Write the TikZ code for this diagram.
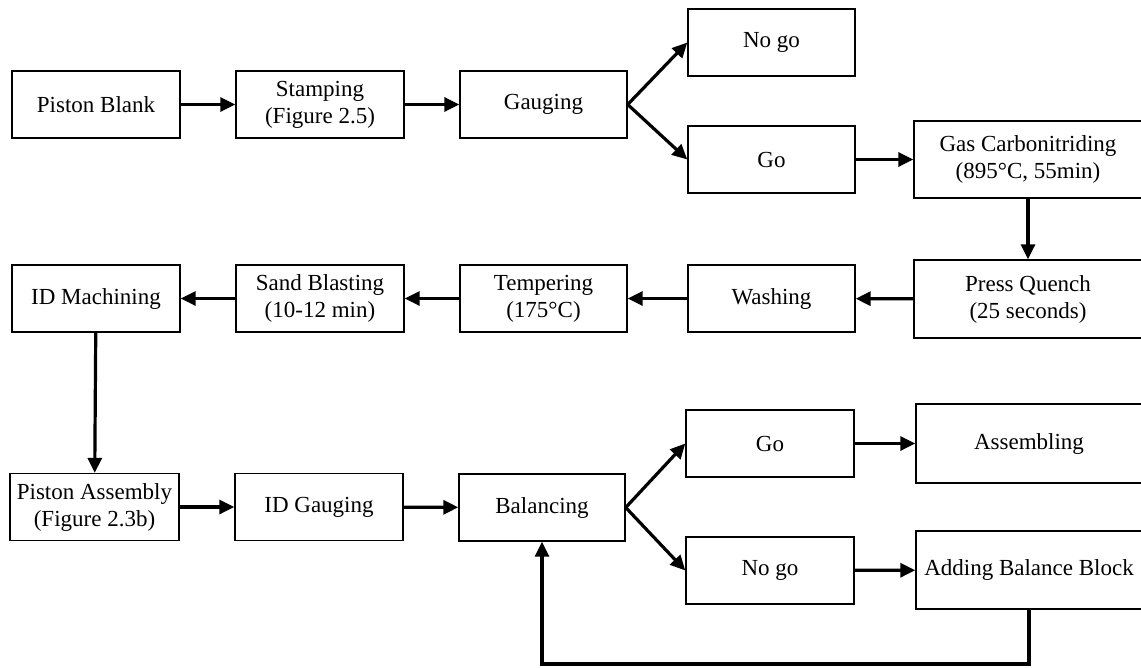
\documentclass[tikz,border=0pt]{standalone}
\usepackage{fontspec}
\setmainfont{Liberation Serif}
\usetikzlibrary{arrows.meta}
\begin{document}
\begin{tikzpicture}[x=1pt,y=-1pt,
  box/.style={draw=black, line width=1.4pt, fill=white, inner sep=2pt, align=center,
    font=\fontsize{23}{27}\selectfont, minimum width=168pt, minimum height=67pt},
  wide/.style={box, minimum width=228pt, minimum height=78pt},
  arr/.style={line width=3.2pt, -{Triangle[length=15pt,width=14pt]}}]
\clip (0,0) rectangle (1141,667);
\fill[white] (0,0) rectangle (1141,667);
% row 1
\node[box] (pb) at (96,104.5) {Piston Blank};
\node[box] (st) at (320,104.5) {Stamping\\(Figure 2.5)};
\node[box, minimum width=167pt] (ga) at (543.5,104.5) {Gauging};
\node[box, minimum width=167pt] (ng1) at (771.5,42.5) {No go};
\node[box, minimum width=167pt] (go1) at (771.5,159.5) {Go};
\node[wide, minimum height=77pt] (gc) at (1028,159.5) {Gas Carbonitriding\\(895°C, 55min)};
% row 2
\node[wide] (pq) at (1028,299) {Press Quench\\(25 seconds)};
\node[box, minimum width=167pt] (wa) at (771.5,298.5) {Washing};
\node[box, minimum width=167pt] (te) at (543.5,298.5) {Tempering\\(175°C)};
\node[box] (sb) at (320,298.5) {Sand Blasting\\(10-12 min)};
\node[box] (idm) at (96,298.5) {ID Machining};
% rows 3/4
\node[box, minimum width=169pt] (pa) at (94.5,507) {Piston Assembly\\(Figure 2.3b)};
\node[box] (idg) at (319,507) {ID Gauging};
\node[box, minimum width=166pt] (ba) at (542,507.5) {Balancing};
\node[box] (go2) at (770,443.5) {Go};
\node[box] (ng2) at (770,570.5) {No go};
\node[wide, minimum width=226pt, minimum height=79pt] (as) at (1029,443.5) {Assembling};
\node[wide, minimum width=226pt] (ab) at (1029,570) {Adding Balance Block};
\coordinate (fb) at (1029,664);
% connectors
\draw[arr] (pb) -- (st);
\draw[arr] (st) -- (ga);
\draw[arr] (ga.east) -- (ng1.west);
\draw[arr] (ga.east) -- (go1.west);
\draw[arr] (go1) -- (gc);
\draw[arr] (gc) -- (pq);
\draw[arr] (pq) -- (wa);
\draw[arr] (wa) -- (te);
\draw[arr] (te) -- (sb);
\draw[arr] (sb) -- (idm);
\draw[arr] (idm) -- (pa);
\draw[arr] (pa) -- (idg);
\draw[arr] (idg) -- (ba);
\draw[arr] (ba.east) -- (go2.west);
\draw[arr] (ba.east) -- (ng2.west);
\draw[arr] (go2) -- (as);
\draw[arr] (ng2) -- (ab);
\draw[arr] (ab.south) -- (fb) -| (ba.south);
\end{tikzpicture}
\end{document}
